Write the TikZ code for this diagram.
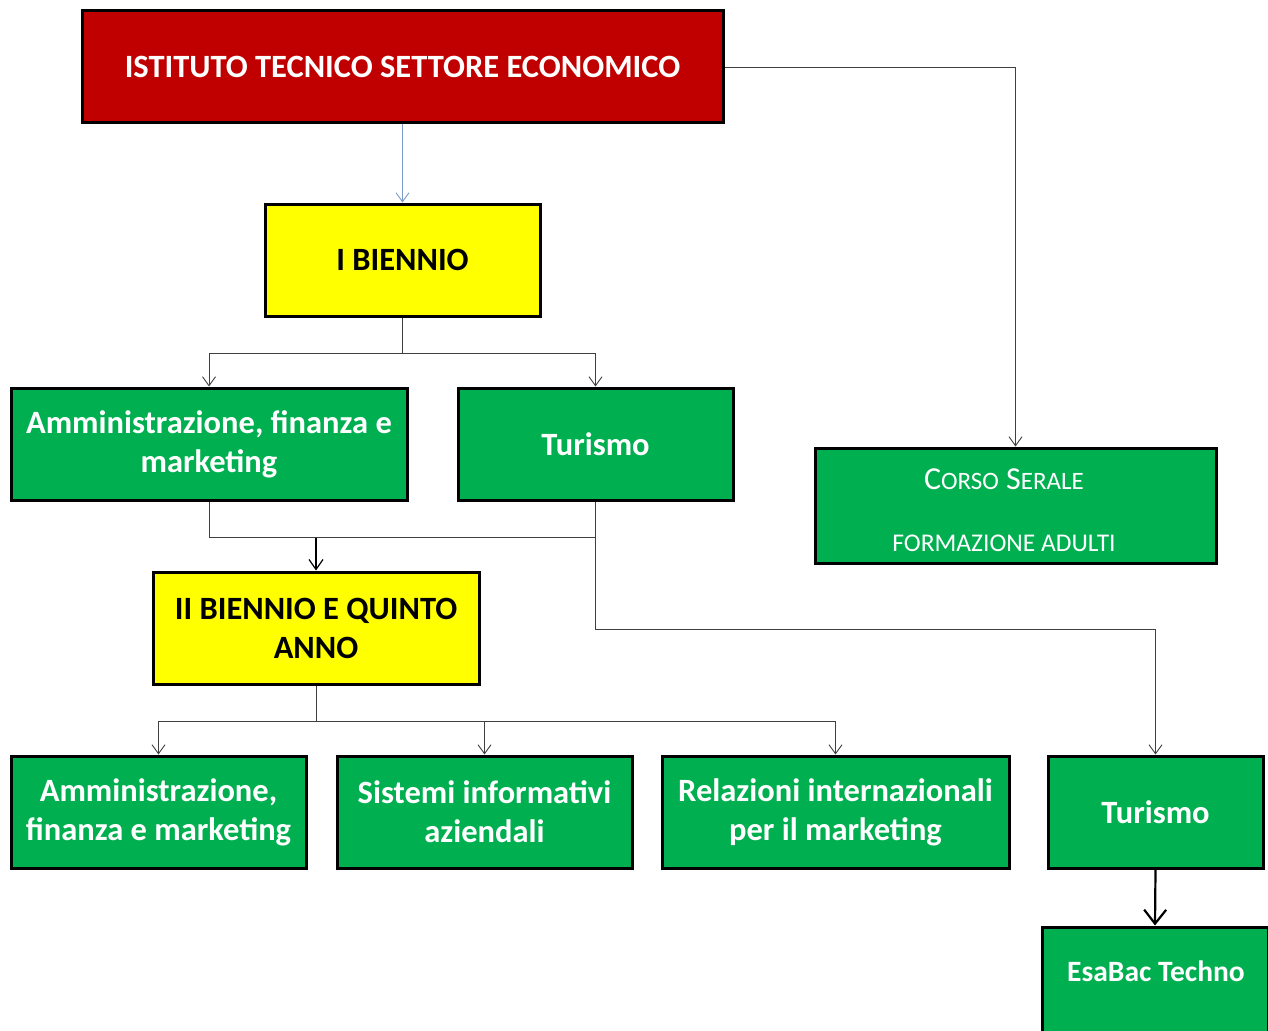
\documentclass[tikz,border=0pt]{standalone}
\usepackage{fontspec}
\setmainfont{Carlito}
\usetikzlibrary{arrows.meta}
\definecolor{bred}{HTML}{C00000}
\definecolor{byel}{HTML}{FFFF00}
\definecolor{bgreen}{HTML}{00B050}
\definecolor{cgray}{HTML}{404040}
\definecolor{cblue}{RGB}{125,155,200}
\tikzset{
  box/.style={draw=black, line width=3pt, rectangle, align=center, inner sep=0pt,
    font=\fontsize{32.5}{39}\selectfont\bfseries},
  rbox/.style={box, fill=bred, text=white},
  ybox/.style={box, fill=byel, text=black},
  gbox/.style={box, fill=bgreen, text=white},
  conn/.style={draw=cgray, line width=0.9pt},
  arr/.style={conn, -{Straight Barb[length=9pt, width=13pt, line width=0.9pt]}},
  txt/.style={inner sep=0pt, text=white, align=center}
}
\begin{document}
\begin{tikzpicture}[x=1pt, y=-1pt]
\clip (0,0) rectangle (1268,1030);
\fill[white] (0,0) rectangle (1268,1030);
% nodes
\node[rbox, minimum width=641, minimum height=112] (ite) at (402.5,67) {ISTITUTO TECNICO SETTORE ECONOMICO};
\node[ybox, minimum width=275, minimum height=112] (ib) at (402.5,260) {I BIENNIO};
\node[gbox, minimum width=396, minimum height=112] (amm1) at (209,444) {Amministrazione, finanza e\\marketing};
\node[gbox, minimum width=275, minimum height=112] (tur1) at (595.5,444) {Turismo};
\node[gbox, minimum width=401, minimum height=115] (cs) at (1015.5,505.5) {};
\node[txt, font=\fontsize{32}{34}\selectfont] (cs1) at (1004,479) {C{\fontsize{25}{28}\selectfont ORSO} S{\fontsize{25}{28}\selectfont ERALE}};
\node[txt, font=\fontsize{25.5}{28}\selectfont] (cs2) at (1004,543) {FORMAZIONE ADULTI};
\node[ybox, minimum width=326, minimum height=112] (ii) at (316,628) {II BIENNIO E QUINTO\\ANNO};
\node[gbox, minimum width=295, minimum height=112] (a2) at (158.5,812) {Amministrazione,\\finanza e marketing};
\node[gbox, minimum width=295, minimum height=112] (s2) at (484.5,812) {Sistemi informativi\\aziendali};
\node[gbox, minimum width=347, minimum height=112] (r2) at (835.5,812) {Relazioni internazionali\\per il marketing};
\node[gbox, minimum width=215, minimum height=112] (t2) at (1155.5,812) {Turismo};
\node[gbox, minimum width=226, minimum height=140] (eb) at (1155,997) {};
\node[txt, font=\fontsize{29.5}{32}\selectfont\bfseries] (ebt) at (1156,971) {EsaBac Techno};
% connectors
\draw[conn, draw=cblue, -{Straight Barb[length=9pt, width=13pt, line width=0.9pt]}] (ite.south) -- (ib.north);
\draw[arr] (ite.east) -| (cs.north);
\draw[conn] (ib.south) -- ++(0,36) coordinate (c1);
\draw[arr] (c1) -| (amm1.north);
\draw[arr] (c1) -| (tur1.north);
\draw[conn] (amm1.south) -- ++(0,36) coordinate (c2) -| (tur1.south);
\draw[arr, draw=black, -{Straight Barb[length=10pt, width=14pt, line width=1.2pt]}, line width=1.2pt] (ii.north |- c2) -- (ii.north);
\draw[arr] (tur1.south) -- ++(0,128) -| (t2.north);
\draw[conn] (ii.south) -- ++(0,36) coordinate (c3);
\draw[arr] (c3) -| (a2.north);
\draw[arr] (c3) -| (s2.north);
\draw[arr] (c3) -| (r2.north);
\draw[draw=black, line width=2.2pt, -{Straight Barb[length=14pt, width=22pt, line width=2.2pt]}] (t2.south) -- (eb.north);
\end{tikzpicture}
\end{document}
